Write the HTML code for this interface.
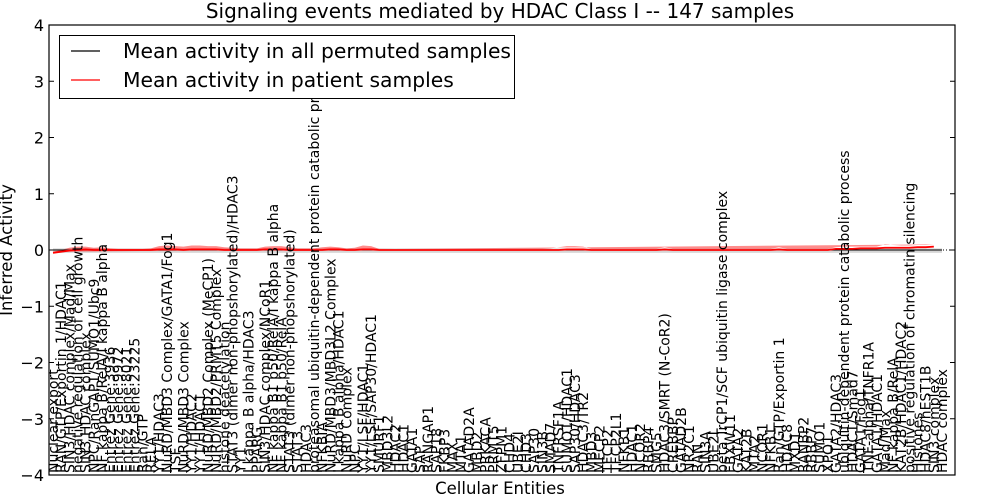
<!DOCTYPE html>
<html><head><meta charset="utf-8"><style>
body{margin:0;background:#fff;}
svg{display:block;font-family:"DejaVu Sans","Liberation Sans",sans-serif;}
</style></head><body>
<svg id="chart" width="1000" height="500" viewBox="0 0 1000 500">
<defs><clipPath id="pc"><rect x="49" y="25" width="906" height="450"/></clipPath></defs>
<rect width="1000" height="500" fill="#fff"/>
<text x="500" y="18" font-size="20" text-anchor="middle">Signaling events mediated by HDAC Class I -- 147 samples</text>
<text transform="translate(12,250) rotate(-90)" font-size="16.5" text-anchor="middle">Inferred Activity</text>
<text x="500" y="494" font-size="16.5" text-anchor="middle">Cellular Entities</text>
<g id="marks" clip-path="url(#pc)"></g>
<g id="labels" clip-path="url(#pc)"></g>
<g id="yticks"></g>
<rect x="49" y="25" width="906" height="450" fill="none" stroke="#000" stroke-width="1.2"/>
<g>
<rect x="59.5" y="35.5" width="455" height="63" fill="#fff" stroke="#000"/>
<line x1="71" y1="51" x2="100" y2="51" stroke="#000" stroke-width="1.2"/>
<text x="123" y="58" font-size="20.3">Mean activity in all permuted samples</text>
<line x1="71" y1="80" x2="100" y2="80" stroke="#f00" stroke-width="1.2"/>
<text x="123" y="87" font-size="20.3">Mean activity in patient samples</text>
</g>
</svg>
<script>
const categories=["Nuclear export","RAN/GTP/Exportin 1/HDAC1","SIN3/HDAC complex/Mad/Max","negative regulation of cell growth","SIN3 HDAC complex","NPC/RanGAP1/SUMO1/Ubc9","NF kappa B/RelA/I kappa B alpha","Entrez Gene:3936","Entrez Gene:9972","Entrez Gene:8021","Entrez Gene:23225","Ran/GTP","RELA","YY1/HDAC3","NuRD/MBD3 Complex/GATA1/Fog1","TSF","NuRD/MBD3 Complex","YY1/HDAC2","YY1/HDAC1","NuRD/MBD2 Complex (MeCP1)","NuRD/MBD2/PRMT5 Complex","histone deacetylation","STAT3 (dimer non-phopshorylated)/HDAC3","YY1","I kappa B alpha/HDAC3","PPARG","SIN3/HDAC complex/NCoR1","NF kappa B1 p50/RelA/I kappa B alpha","NF kappa B1 p50/RelA","STAT3 (dimer non-phopshorylated)","STAT3","HDAC3","proteasomal ubiquitin-dependent protein catabolic process","NFKBIA","NuRD/MBD3/MBD3L2 Complex","I kappa B alpha/HDAC1","NuRD Complex","NPC","YY1/LSF/HDAC1","YY1/LSF/SAP30/HDAC1","SMURF1","MBD3L2","HDAC2","HDAC1","GATA1","SAP","RANGAP1","SAP18","FKBP3","MAX","MTA1","GATAD2A","MBD2","PRKACA","PRMT5","ZFPM1","CHD4","UBE2I","CHD3","SAP30","SIN3B","SMAD7","TNFRSF1A","SUMO1/HDAC1","SAP30/HDAC3","HDAC3/TR2","MBD3","MECP2","TFCP2","TFCP2L1","NFKB1","HDAC1","NCOR2","RBBP4","SMG5","HDAC3/SMRT (N-CoR2)","CREBBP","GATAD2B","NR2C1","RAN","SIN3A","UBE2I","beta TrCP1/SCF ubiquitin ligase complex","FBXW11","GATA2","KAT2B","MTA2","NCOR1","NFKB1","Ran/GTP/Exportin 1","HDAC8","MXD1","RANBP2","RBBP7","SUMO1","XPO1","GATA2/HDAC3","ubiquitin-dependent protein catabolic process","HDAC1/Smad7","GATA1/Fog1","TNF-alpha/TNFR1A","GATA1/HDAC1","Mad/Max","NF kappa B/RelA","KAT2B/HDAC1/HDAC2","positive regulation of chromatin silencing","Histones","HDAC8/hEST1B","SIN3 complex","HDAC complex"];
const patientMean=[-0.05,-0.03,-0.01,0,0.01,0,0,0,0,0,0,0,0,0.01,0.01,0.01,0,0.01,0.01,0.01,0.01,0,0,0,0,0,0.01,0.01,0.01,0,0,0,0,0,0.01,0.01,0,0,0.01,0.01,0,0,0,0,0,0,0,0,0,0,0,0,0,0,0,0,0,0,0,0,0,0,0,0.01,0.01,0.01,0,0,0,0,0,0,0,0,0,0.01,0,0,0,0,0,0,0,0,0,0,0,0,0,0.01,0,0,0,0,0,0,0.02,0.02,0.02,0.03,0.03,0.03,0.04,0.04,0.04,0.04,0.05,0.05,0.06];
const patientSpread=[0.02,0.03,0.05,0.06,0.05,0.04,0.05,0.03,0.02,0.02,0.02,0.02,0.03,0.06,0.07,0.06,0.06,0.07,0.07,0.06,0.06,0.05,0.04,0.03,0.03,0.03,0.05,0.06,0.06,0.05,0.03,0.03,0.03,0.05,0.05,0.04,0.03,0.04,0.07,0.06,0.02,0.02,0.02,0.02,0.02,0.02,0.02,0.02,0.02,0.02,0.02,0.02,0.02,0.02,0.02,0.02,0.02,0.02,0.02,0.02,0.02,0.03,0.05,0.06,0.06,0.05,0.02,0.02,0.02,0.02,0.02,0.02,0.02,0.02,0.02,0.04,0.02,0.02,0.02,0.02,0.02,0.02,0.02,0.02,0.02,0.02,0.02,0.02,0.02,0.04,0.02,0.02,0.02,0.02,0.02,0.02,0.03,0.04,0.04,0.03,0.03,0.03,0.06,0.05,0.04,0.04,0.04,0.04,0.04];
const permutedMean=categories.map(()=>0);
const yTicks=[-4,-3,-2,-1,0,1,2,3,4];
const NS="http://www.w3.org/2000/svg";
const X0=53,X1=942,Y0=250,YS=56.25;
function xs(i){return X0+i*(X1-X0)/(categories.length-1);}
function ys(v){return Y0-v*YS;}
function mk(tag,attrs,parent){const e=document.createElementNS(NS,tag);for(const k in attrs)e.setAttribute(k,attrs[k]);parent.appendChild(e);return e;}
const marks=document.getElementById('marks'),labels=document.getElementById('labels'),yt=document.getElementById('yticks');
let up="",dn="";
categories.forEach((c,i)=>{up+=(i?"L":"M")+xs(i)+","+ys(patientMean[i]+patientSpread[i]);});
for(let i=categories.length-1;i>=0;i--){dn+="L"+xs(i)+","+ys(patientMean[i]-patientSpread[i]);}
const grey=mk('path',{d:(()=>{let s="";categories.forEach((c,i)=>{s+=(i?"L":"M")+xs(i)+","+ys(permutedMean[i]+0.03);});for(let i=categories.length-1;i>=0;i--)s+="L"+xs(i)+","+ys(permutedMean[i]-0.05);return s+"Z";})(),fill:"#bbb",opacity:"0.6"},marks);


const band=mk('path',{d:up+dn+"Z",fill:"#f00",opacity:"0.45"},marks);


const zl=mk('line',{x1:49,x2:955,y1:ys(0),y2:ys(0),stroke:"#000","stroke-dasharray":"1,2","stroke-width":1},marks);


const pl=mk('polyline',{points:categories.map((c,i)=>xs(i)+","+ys(permutedMean[i])).join(" "),fill:"none",stroke:"#000","stroke-width":1},marks);


const rl=mk('polyline',{points:categories.map((c,i)=>xs(i)+","+ys(patientMean[i])).join(" "),fill:"none",stroke:"#f00","stroke-width":1.8},marks);


categories.forEach((c,i)=>{
 const t=mk('text',{transform:`translate(${xs(i)+5},473) rotate(-90)`,"font-size":"14"},labels);
 t.textContent=c;
 
 
});
yTicks.forEach(v=>{
 const t=mk('text',{x:44,y:ys(v)+6,"font-size":"16","text-anchor":"end"},yt);
 t.textContent=v<0?"\u2212"+Math.abs(v):String(v);
 
 
 const l=mk('line',{x1:49,x2:54,y1:ys(v),y2:ys(v),stroke:"#000"},yt);
 
 
 const r=mk('line',{x1:950,x2:955,y1:ys(v),y2:ys(v),stroke:"#000"},yt);
 
 
});
</script>
</body></html>
